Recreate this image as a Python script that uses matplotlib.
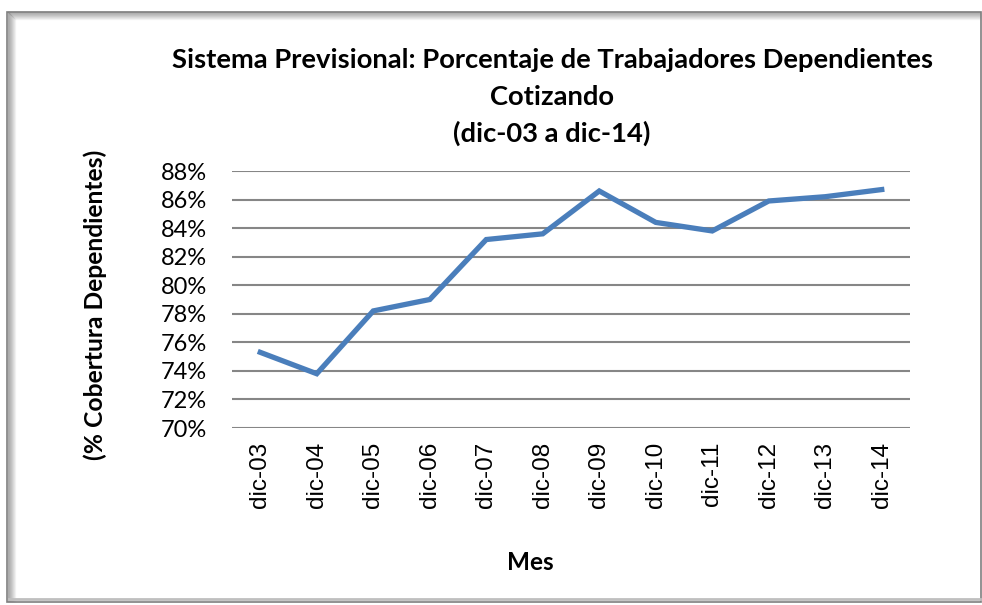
import matplotlib
matplotlib.use('Agg')
import matplotlib.pyplot as plt
from matplotlib.patches import Rectangle
from matplotlib.ticker import FuncFormatter

meses = ['dic-03', 'dic-04', 'dic-05', 'dic-06', 'dic-07', 'dic-08',
         'dic-09', 'dic-10', 'dic-11', 'dic-12', 'dic-13', 'dic-14']
cobertura = [75.3, 73.8, 78.2, 79.0, 83.2, 83.6,
             86.6, 84.4, 83.8, 85.9, 86.2, 86.7]
y_ticks = [70, 72, 74, 76, 78, 80, 82, 84, 86, 88]

W, H = 982, 605
fig = plt.figure(figsize=(W / 100, H / 100), dpi=100)
fig.patch.set_facecolor('white')

# chart frame with a soft shadow on the inside edges
for i in range(8):
    a = 0.6 * (1 - i / 8)
    fig.add_artist(plt.Line2D([(8 + i) / W, 980 / W], [1 - (12 + i) / H] * 2,
                              color='gray', alpha=a, lw=1, transform=fig.transFigure))
    fig.add_artist(plt.Line2D([(8 + i) / W] * 2, [4 / H, 1 - (12 + i) / H],
                              color='gray', alpha=a, lw=1, transform=fig.transFigure))
fig.add_artist(Rectangle((7 / W, 3 / H), 974 / W, 1 - 15 / H, fill=False,
                         edgecolor='#7f7f7f', lw=1.2, transform=fig.transFigure))
fig.add_artist(plt.Line2D([9 / W, 980 / W], [6 / H] * 2, color='#bfbfbf',
                          lw=2, transform=fig.transFigure))

ax = fig.add_axes([232 / W, 1 - 428 / H, (910 - 232) / W, (428 - 171) / H])
ax.plot(range(len(meses)), cobertura, color='#4a7ebb', lw=3.8,
        solid_joinstyle='miter', zorder=3)

ax.set_xlim(-0.5, len(meses) - 0.5)
ax.set_ylim(70, 88)
ax.set_yticks(y_ticks)
ax.yaxis.set_major_formatter(FuncFormatter(lambda v, p: f'{v:.0f}%'))
ax.set_xticks(range(len(meses)))
ax.set_xticklabels(meses, rotation=90, family='Liberation Sans', fontsize=17.5)
for lab in ax.get_yticklabels():
    lab.set_family('Lato')
    lab.set_fontsize(17)
ax.tick_params(length=0)
ax.tick_params(axis='y', pad=18)
ax.tick_params(axis='x', pad=10)
ax.grid(axis='y', color='#868686', lw=1.5)
ax.set_axisbelow(True)
for s in ax.spines.values():
    s.set_visible(False)

cx = 552 / W
fsz = 19.7
fig.text(cx, 1 - 60 / H, 'Sistema Previsional: Porcentaje de Trabajadores Dependientes',
         ha='center', va='center', family='Lato', weight='bold', fontsize=fsz)
fig.text(cx, 1 - 97 / H, 'Cotizando', ha='center', va='center',
         family='Lato', weight='bold', fontsize=fsz)
fig.text(cx, 1 - 133 / H, '(dic-03 a dic-14)', ha='center', va='center',
         family='Lato', weight='bold', fontsize=fsz)
fig.text(95 / W, 1 - 305 / H, '(% Cobertura Dependientes)', rotation=90,
         ha='center', va='center', family='Lato', weight='bold', fontsize=17.7)
fig.text(530 / W, 1 - 563 / H, 'Mes', ha='center', va='center',
         family='Lato', weight='bold', fontsize=17.5)

fig.savefig('out.png', dpi=100)
